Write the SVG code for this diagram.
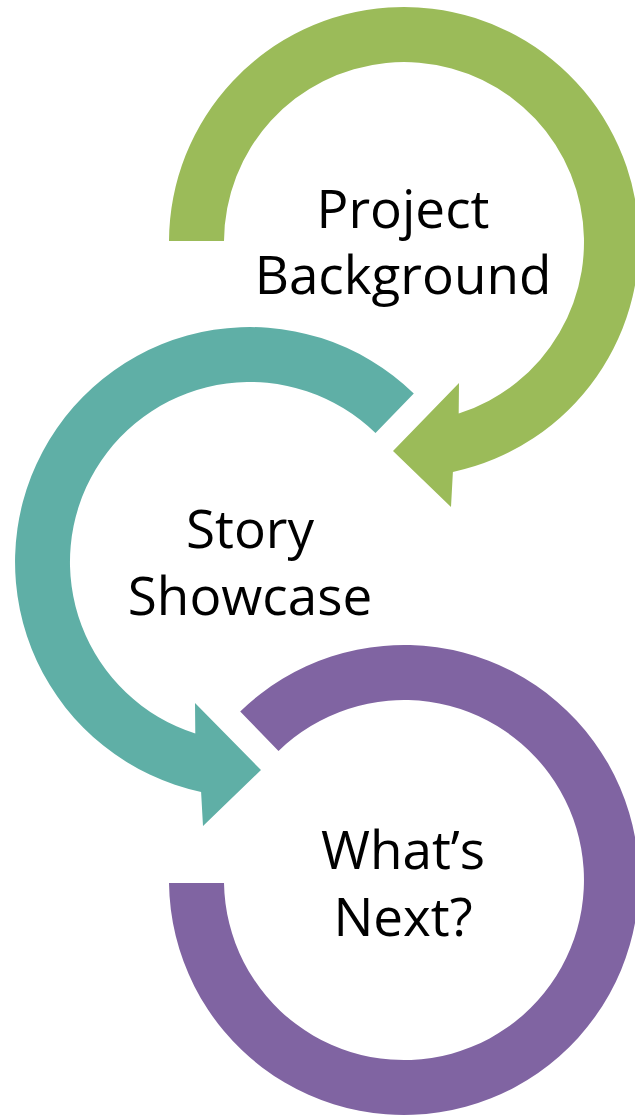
<svg xmlns="http://www.w3.org/2000/svg" width="635" height="1116" viewBox="0 0 635 1116">
  <style>
    .lbl { font-family: "Open Sans", "Liberation Sans", sans-serif; font-size: 53px; fill: #000000; text-anchor: middle; }
    .green { fill: #9BBB59; }
    .teal { fill: #5FAFA6; }
    .purple { fill: #8064A2; }
  </style>
  <rect width="635" height="1116" fill="#FFFFFF"/>
  <g id="node-project-background">
    <path class="green" d="M169,241 A235,235 0 1 1 452.9,471.9 L451,507 L393,451 L459,383 L458.7,413.5 A180,180 0 1 0 224,241 Z"/>
    <text class="lbl" x="403" y="228">Project</text>
    <text class="lbl" x="403" y="294">Background</text>
  </g>
  <g id="node-story-showcase">
    <path class="teal" d="M413.8,393.5 A235,235 0 1 0 201.1,791.9 L203,826 L261,770 L195,703 L195.3,733.5 A180,180 0 1 1 375.5,433 Z"/>
    <text class="lbl" x="250" y="548">Story</text>
    <text class="lbl" x="250" y="615">Showcase</text>
  </g>
  <g id="node-whats-next">
    <path class="purple" d="M240.2,711.5 A235,235 0 1 1 169,883 L224,883 A180,180 0 1 0 278.5,751 Z"/>
    <text class="lbl" x="403" y="869">What’s</text>
    <text class="lbl" x="403" y="936">Next?</text>
  </g>
  <g id="connectors"/>
</svg>
